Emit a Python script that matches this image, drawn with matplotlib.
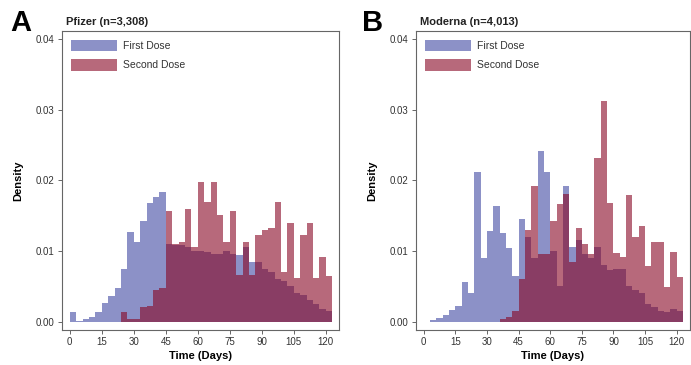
import numpy as np
import matplotlib
matplotlib.use("Agg")
import matplotlib.pyplot as plt

plt.rcParams['font.family'] = ['Liberation Sans', 'DejaVu Sans']

# 3-day bins, 0..123 days
bin_edges = np.arange(0, 124, 3)

# Pfizer (panel A), density per bin
pfizer_first = [0.0013, 0.0001, 0.0003, 0.0007, 0.0014, 0.0026, 0.0036, 0.0048, 0.0074, 0.0127,
                0.0113, 0.0143, 0.0168, 0.0177, 0.0184, 0.0110, 0.0108, 0.0108, 0.0105, 0.0100,
                0.0100, 0.0098, 0.0096, 0.0095, 0.0100, 0.0095, 0.0094, 0.0105, 0.0085, 0.0085,
                0.0075, 0.0070, 0.0060, 0.0058, 0.0050, 0.0040, 0.0038, 0.0030, 0.0025, 0.0018,
                0.0015]
pfizer_second = [0, 0, 0, 0, 0, 0, 0, 0, 0.0013, 0.0003,
                 0.0004, 0.0020, 0.0022, 0.0045, 0.0048, 0.0156, 0.0110, 0.0112, 0.0160, 0.0105,
                 0.0198, 0.0170, 0.0198, 0.0151, 0.0113, 0.0156, 0.0066, 0.0113, 0.0066, 0.0123,
                 0.0130, 0.0132, 0.0170, 0.0070, 0.0139, 0.0061, 0.0123, 0.0139, 0.0062, 0.0091,
                 0.0065]

# Moderna (panel B)
moderna_first = [0, 0.0002, 0.0005, 0.0009, 0.0016, 0.0022, 0.0056, 0.0040, 0.0212, 0.0090,
                 0.0128, 0.0164, 0.0125, 0.0104, 0.0065, 0.0145, 0.0120, 0.0090, 0.0242, 0.0212,
                 0.0100, 0.0050, 0.0192, 0.0105, 0.0115, 0.0095, 0.0090, 0.0106, 0.0080, 0.0073,
                 0.0075, 0.0075, 0.0050, 0.0045, 0.0040, 0.0025, 0.0020, 0.0015, 0.0013, 0.0018,
                 0.0015]
moderna_second = [0, 0, 0, 0, 0, 0, 0, 0, 0, 0,
                  0, 0, 0.0003, 0.0006, 0.0015, 0.0060, 0.0130, 0.0192, 0.0095, 0.0095,
                  0.0142, 0.0166, 0.0180, 0.0085, 0.0132, 0.0110, 0.0095, 0.0232, 0.0312, 0.0168,
                  0.0097, 0.0092, 0.0179, 0.0120, 0.0136, 0.0078, 0.0113, 0.0112, 0.0049, 0.0099,
                  0.0063]

panels = [("A", "Pfizer (n=3,308)", pfizer_first, pfizer_second),
          ("B", "Moderna (n=4,013)", moderna_first, moderna_second)]

x_ticks = [0, 15, 30, 45, 60, 75, 90, 105, 120]
y_ticks = [0.00, 0.01, 0.02, 0.03, 0.04]

blue = '#4e56aa'
red = '#870523'
gray = '#333333'

fig = plt.figure(figsize=(6.91, 3.65), dpi=100)
ax_a = fig.add_axes([61.7 / 691, 1 - 330 / 365, 277.6 / 691, 299.3 / 365])
ax_b = fig.add_axes([415.7 / 691, 1 - 330 / 365, 274.3 / 691, 299.3 / 365])

centers = (bin_edges[:-1] + bin_edges[1:]) / 2

for ax, (letter, title, first, second) in zip([ax_a, ax_b], panels):
    ax.hist(centers, bins=bin_edges, weights=first, histtype='stepfilled',
            color=blue, alpha=0.65, linewidth=0, label='First Dose')
    ax.hist(centers, bins=bin_edges, weights=second, histtype='stepfilled',
            color=red, alpha=0.6, linewidth=0, label='Second Dose')
    ax.set_xlim(-3.8, 126.3)
    ax.set_ylim(-0.0012, 0.0412)
    ax.set_xticks(x_ticks)
    ax.set_yticks(y_ticks)
    ax.set_yticklabels(['%.2f' % t for t in y_ticks])
    ax.tick_params(direction='out', length=3, width=0.7, colors='#666666',
                   labelsize=7, labelcolor=gray, pad=2)
    for s in ax.spines.values():
        s.set_color('#666666')
        s.set_linewidth(0.8)
    ax.set_xlabel('Time (Days)', fontsize=8, fontweight='bold', labelpad=3)
    ax.set_ylabel('Density', fontsize=8, fontweight='bold', labelpad=9)
    ax.text(0.015, 1.012, title, transform=ax.transAxes, fontsize=8,
            fontweight='bold', ha='left', va='bottom', color='#222222')
    ax.legend(loc='upper left', frameon=False, fontsize=7.5, handlelength=4.4,
              handleheight=1.3, borderaxespad=0.5, labelspacing=0.75,
              handletextpad=0.6, labelcolor=gray)

fig.text(10 / 691, 1 - 31 / 365, 'A', fontsize=21, fontweight='bold', ha='left', va='baseline')
fig.text(362 / 691, 1 - 31 / 365, 'B', fontsize=21, fontweight='bold', ha='left', va='baseline')

fig.savefig('out.png', dpi=100)
